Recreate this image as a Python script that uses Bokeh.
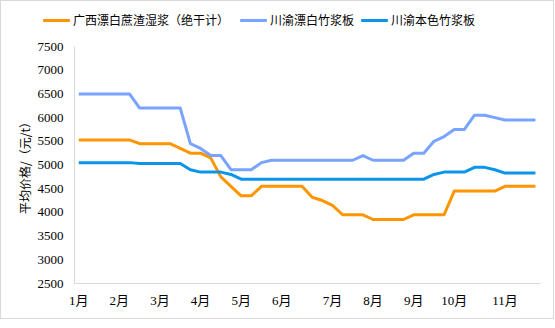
from bokeh.plotting import figure
from bokeh.layouts import column
from bokeh.models import FixedTicker, Range1d, Div
from bokeh.embed import file_html
from bokeh.resources import INLINE

# ---- data (weekly prices, yuan/t) ----
weeks = list(range(46))
month_tick_weeks = [0, 4, 8, 12, 16, 20, 25, 29, 33, 37, 42]
month_labels = ["1月", "2月", "3月", "4月", "5月", "6月", "7月", "8月", "9月", "10月", "11月"]
y_ticks = [2500, 3000, 3500, 4000, 4500, 5000, 5500, 6000, 6500, 7000, 7500]

series_names = ["广西漂白蔗渣湿浆（绝干计）", "川渝漂白竹浆板", "川渝本色竹浆板"]

gx_bleached_bagasse = [5530, 5530, 5530, 5530, 5530, 5530,
                       5450, 5450, 5450, 5450,
                       5350, 5250, 5250, 5150, 4750, 4550, 4350, 4350,
                       4550, 4550, 4550, 4550, 4550,
                       4320, 4250, 4150, 3950, 3950, 3950,
                       3850, 3850, 3850, 3850,
                       3950, 3950, 3950, 3950,
                       4450, 4450, 4450, 4450, 4450,
                       4550, 4550, 4550, 4550]

cy_bleached_bamboo = [6500, 6500, 6500, 6500, 6500, 6500,
                      6200, 6200, 6200, 6200, 6200,
                      5450, 5350, 5200, 5200, 4900, 4900, 4900, 5050,
                      5100, 5100, 5100, 5100, 5100, 5100, 5100, 5100, 5100,
                      5200, 5100, 5100, 5100, 5100,
                      5250, 5250, 5500, 5600, 5750, 5750, 6050, 6050, 6000,
                      5950, 5950, 5950, 5950]

cy_unbleached_bamboo = [5050, 5050, 5050, 5050, 5050, 5050,
                        5030, 5030, 5030, 5030, 5030,
                        4900, 4850, 4850, 4850, 4800,
                        4700, 4700, 4700, 4700, 4700, 4700, 4700, 4700, 4700, 4700,
                        4700, 4700, 4700, 4700, 4700, 4700, 4700, 4700, 4700,
                        4800, 4850, 4850, 4850, 4950, 4950, 4900,
                        4830, 4830, 4830, 4830]

colors = ["#FF9500", "#78A4FF", "#0A95EA"]

NUM_FONT = "'Liberation Serif', 'Noto Sans CJK SC'"
CJK_FONT = "'Noto Sans CJK SC'"

# ---- legend strip on top (HTML) ----
glyph_left = [42, 239, 360]
items_html = ""
for name, c, gl in zip(series_names, colors, glyph_left):
    items_html += (
        f'<span style="position:absolute;left:{gl}px;top:18px;width:27px;height:3px;'
        f'background:{c};border-radius:1px;"></span>'
        f'<span style="position:absolute;left:{gl + 30}px;top:11px;line-height:16px;'
        f'font-family:{CJK_FONT};font-size:12px;color:#000;white-space:nowrap;">{name}</span>'
    )
legend_div = Div(text=f'<div style="position:relative;width:552px;height:35px;">{items_html}</div>',
                 width=552, height=35, margin=0)

# ---- main chart ----
p = figure(width=552, height=282, output_backend="svg", toolbar_location=None,
           x_range=Range1d(-0.42, 45.5), y_range=Range1d(2500, 7500),
           min_border_left=73, min_border_right=13, min_border_top=10, min_border_bottom=35)
p.outline_line_color = None
p.xgrid.visible = False
p.ygrid.visible = False

for ys, c in zip([gx_bleached_bagasse, cy_bleached_bamboo, cy_unbleached_bamboo], colors):
    p.line(weeks, ys, line_color=c, line_width=3, line_join="round")

p.xaxis.ticker = FixedTicker(ticks=month_tick_weeks)
p.xaxis.major_label_overrides = {t: l for t, l in zip(month_tick_weeks, month_labels)}
p.yaxis.ticker = FixedTicker(ticks=y_ticks)
for ax in (p.xaxis, p.yaxis):
    ax.axis_line_color = "#d9d9d9"
    ax.axis_line_width = 1
    ax.major_tick_line_color = None
    ax.minor_tick_line_color = None
    ax.major_label_text_font = NUM_FONT
    ax.major_label_text_font_size = "13px"
    ax.major_label_text_color = "#000000"
p.xaxis.major_label_standoff = 3
p.yaxis.major_label_standoff = 5
p.yaxis.axis_label = "平均价格/（元/t）"
p.yaxis.axis_label_text_font = CJK_FONT
p.yaxis.axis_label_text_font_style = "normal"
p.yaxis.axis_label_text_font_size = "12px"
p.yaxis.axis_label_text_color = "#000000"
p.yaxis.axis_label_standoff = 2

layout = column(legend_div, p, spacing=0)
layout.styles = {"border": "1px solid #d9d9d9"}

open("out.html", "w").write(file_html(layout, INLINE))
